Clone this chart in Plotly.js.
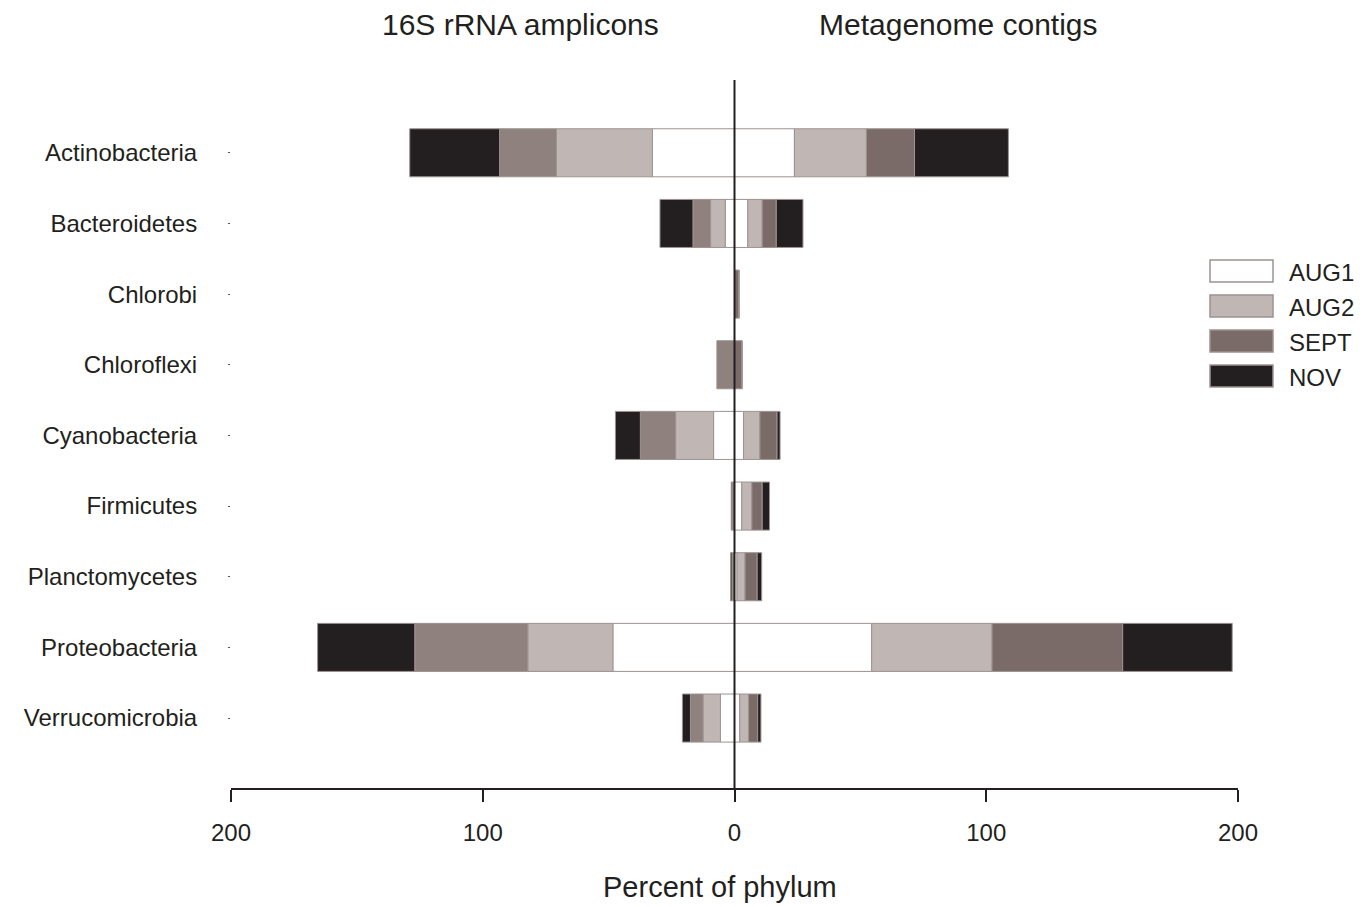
<!DOCTYPE html>
<html>
<head>
<meta charset="utf-8">
<script src="https://cdn.plot.ly/plotly-3.0.1.min.js"></script>
<style>html,body{margin:0;padding:0;background:#fff;}#chart{width:1371px;height:907px;}</style>
</head>
<body>
<div id="chart"></div>
<script>
// ---- data ----
const phyla = ["Actinobacteria","Bacteroidetes","Chlorobi","Chloroflexi","Cyanobacteria","Firmicutes","Planctomycetes","Proteobacteria","Verrucomicrobia"];
const seriesNames = ["AUG1","AUG2","SEPT","NOV"];
// 16S rRNA amplicons (plotted to the left)
const ampAUG1 = [32.6, 3.7, 0, 0, 8.3, 0, 0, 48.3, 5.6];
const ampAUG2 = [38.1, 5.8, 0, 0, 15.1, 0, 0, 33.8, 6.9];
const ampSEPT = [22.6, 7.0, 0, 7.0, 14.0, 1.0, 1.0, 44.9, 5.0];
const ampNOV  = [35.7, 13.1, 0, 0, 9.9, 0.3, 0.6, 38.6, 3.2];
// Metagenome contigs (plotted to the right)
const metAUG1 = [23.8, 5.3, 0, 0, 3.6, 2.9, 1.0, 54.5, 2.1];
const metAUG2 = [28.6, 5.7, 0, 0, 6.5, 4.0, 3.2, 47.8, 3.5];
const metSEPT = [19.1, 5.6, 1.8, 3.0, 6.8, 4.1, 4.8, 51.9, 3.6];
const metNOV  = [37.3, 10.6, 0, 0, 1.2, 2.9, 1.8, 43.5, 1.3];
const tickVals = [-200, -100, 0, 100, 200];
const tickText = ["200", "100", "0", "100", "200"];

// ---- styles ----
const colorsLeft  = ["#ffffff", "#c0b7b5", "#8e817e", "#231f20"];
const colorsRight = ["#ffffff", "#c0b7b5", "#7a6b68", "#231f20"];
const edge = "#9d9391";
const txt = "#231f20";
const FONT = "Liberation Sans, Arial, Helvetica, sans-serif";

const ampSeries = [ampAUG1, ampAUG2, ampSEPT, ampNOV];
const metSeries = [metAUG1, metAUG2, metSEPT, metNOV];

const traces = [];
ampSeries.forEach((vals, i) => {
  traces.push({
    type: "bar", orientation: "h", name: seriesNames[i] + " (16S)",
    y: phyla, x: vals.map(v => -v), width: 0.68,
    marker: {color: colorsLeft[i], line: {color: edge, width: 1}},
    showlegend: false
  });
});
metSeries.forEach((vals, i) => {
  traces.push({
    type: "bar", orientation: "h", name: seriesNames[i],
    y: phyla, x: vals, width: 0.68,
    marker: {color: colorsRight[i], line: {color: edge, width: 1}},
    showlegend: false
  });
});

// layout geometry (pixels)
const W = 1371, H = 907, L = 231, R = 133, T = 80, B = 119;
const pw = W - L - R, ph = H - T - B;
const px2x = p => (p - L) / pw;
const py2y = p => (H - B - p) / ph;

const shapes = [{
  type: "line", xref: "x", yref: "paper", x0: 0, x1: 0, y0: 0, y1: 1,
  line: {color: txt, width: 2}, layer: "above"
}];
const annotations = [
  {text: "16S rRNA amplicons", xref: "x", yref: "paper", x: -85, y: py2y(25), showarrow: false,
   font: {family: FONT, size: 30, color: txt}, xanchor: "center", yanchor: "middle"},
  {text: "Metagenome contigs", xref: "x", yref: "paper", x: 89, y: py2y(25), showarrow: false,
   font: {family: FONT, size: 30, color: txt}, xanchor: "center", yanchor: "middle"},
  {text: "Percent of phylum", xref: "paper", yref: "paper", x: px2x(720), y: py2y(887), showarrow: false,
   font: {family: FONT, size: 29, color: txt}, xanchor: "center", yanchor: "middle"}
];
// custom legend
seriesNames.forEach((nm, i) => {
  const cy = 271 + i * 35;
  shapes.push({type: "rect", xref: "paper", yref: "paper",
    x0: px2x(1210), x1: px2x(1273), y0: py2y(cy - 11), y1: py2y(cy + 11),
    fillcolor: colorsRight[i], line: {color: edge, width: 1.5}});
  annotations.push({text: nm, xref: "paper", yref: "paper", x: px2x(1287), y: py2y(cy + 1),
    showarrow: false, xanchor: "left", yanchor: "middle",
    font: {family: FONT, size: 24, color: txt}});
});

const layout = {
  width: W, height: H,
  margin: {l: L, r: R, t: T, b: B, pad: 0},
  paper_bgcolor: "#ffffff", plot_bgcolor: "#ffffff",
  barmode: "relative", bargap: 0.32,
  showlegend: false,
  font: {family: FONT, color: txt},
  xaxis: {
    range: [-200, 200], tickvals: tickVals, ticktext: tickText,
    showgrid: false, zeroline: false, showline: true, linecolor: txt, linewidth: 2,
    ticks: "outside", ticklen: 12, tickwidth: 2, tickcolor: txt,
    tickfont: {family: FONT, size: 24, color: txt}, ticklabelstandoff: 10,
    fixedrange: true
  },
  yaxis: {
    type: "category", categoryorder: "array", categoryarray: phyla,
    range: [8.99, -1.03],
    showgrid: false, zeroline: false, showline: false,
    ticks: "outside", ticklen: 2, tickwidth: 1, tickcolor: "#555",
    tickfont: {family: FONT, size: 24, color: txt}, ticklabelstandoff: 26,
    fixedrange: true
  },
  shapes: shapes,
  annotations: annotations
};

Plotly.newPlot("chart", traces, layout, {displayModeBar: false, staticPlot: true});
</script>
</body>
</html>
